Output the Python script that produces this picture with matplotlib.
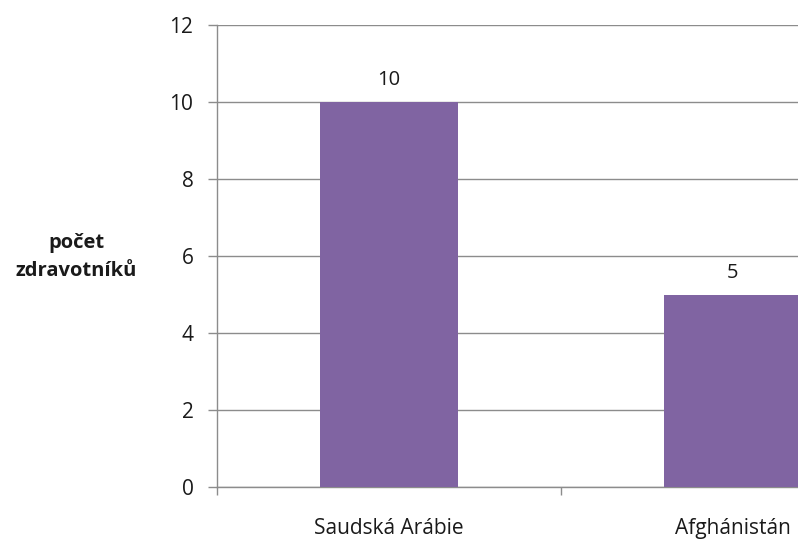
import matplotlib
matplotlib.use("Agg")
import matplotlib.pyplot as plt

countries = ["Saudská Arábie", "Afghánistán"]
counts = [10, 5]

plt.rcParams['font.family'] = ['Open Sans', 'DejaVu Sans']

fig = plt.figure(figsize=(7.98, 5.43), dpi=100)
# plot area runs past the right edge, as in the reference
ax = fig.add_axes([217/798, 56/543, 688/798, 462/543])

grid_c = '#8c8c8c'
txt_c = '#1a1a1a'
pos = [i + 0.5 for i in range(len(countries))]
ax.bar(pos, counts, width=0.4, color='#8064A2', zorder=3)
for x, v in zip(pos, counts):
    ax.text(x, v + 0.3, str(v), ha='center', va='bottom', fontsize=14.5, color=txt_c)

ax.set_xlim(0, 2)
ax.set_ylim(0, 12)
ax.set_yticks(range(0, 13, 2))
ax.yaxis.grid(True, color=grid_c, linewidth=1, zorder=0)
ax.set_xticks([0, 1, 2])
ax.set_xticklabels([])
ax.set_xticks(pos, minor=True)
ax.set_xticklabels(countries, minor=True, fontsize=15, color=txt_c)
ax.tick_params(axis='x', which='minor', length=0, pad=22)
ax.tick_params(axis='x', which='major', length=6, color=grid_c, width=1)
ax.tick_params(axis='y', length=6.5, color=grid_c, width=1, labelsize=15,
               labelcolor=txt_c, pad=10.5)

for s in ['top', 'right']:
    ax.spines[s].set_visible(False)
for s in ['left', 'bottom']:
    ax.spines[s].set_color(grid_c)
    ax.spines[s].set_linewidth(1)

fig.text(76/798, 1 - 257/543, "počet\nzdravotníků", ha='center', va='center',
         fontsize=14.5, fontweight='bold', color=txt_c, linespacing=1.5)

fig.savefig("out.png", dpi=100)
